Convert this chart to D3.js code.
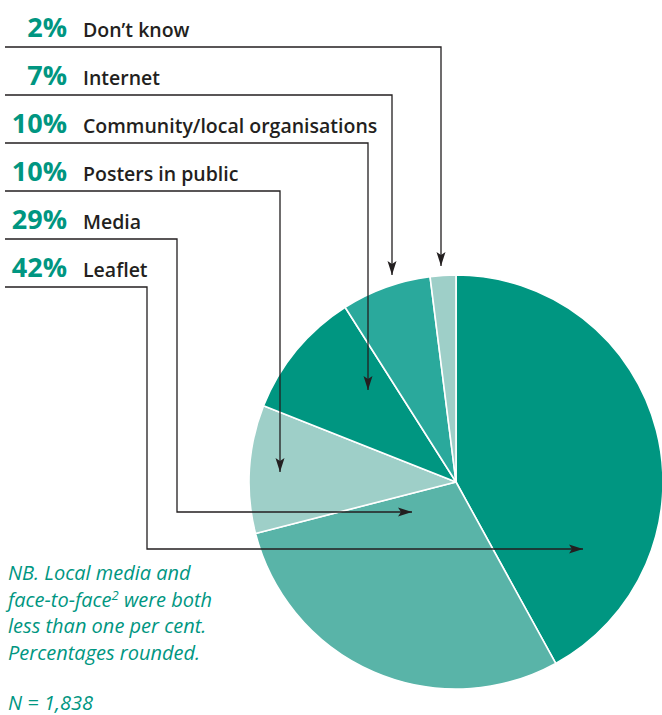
<!DOCTYPE html>
<html>
<head>
<meta charset="utf-8">
<script src="https://cdn.jsdelivr.net/npm/d3@7/dist/d3.min.js"></script>
<style>
  html, body { margin: 0; padding: 0; background: #fff; }
  svg { display: block; }
</style>
</head>
<body>
<script>
// Sources of information (per cent), drawn clockwise from 12 o'clock
const categories = ["Leaflet", "Media", "Posters in public", "Community/local organisations", "Internet", "Don\u2019t know"];
const values = [42, 29, 10, 10, 7, 2];
const sliceColors = ["#009681", "#59b4a8", "#9ecfc8", "#009681", "#2aa99c", "#9ecfc8"];
// Legend order, top to bottom
const legendOrder = ["Don\u2019t know", "Internet", "Community/local organisations", "Posters in public", "Media", "Leaflet"];
const noteLines = ["NB. Local media and", "face-to-face|2| were both", "less than one per cent.", "Percentages rounded."];
const sampleNote = "N = 1,838";

const W = 662, H = 715;
const teal = "#009681", ink = "#231f20";
const cx = 456, cy = 482, R = 207;

const svg = d3.select("body").append("svg").attr("width", W).attr("height", H);

const data = categories.map((c, i) => ({ name: c, value: values[i], color: sliceColors[i] }));
const pie = d3.pie().value(d => d.value).sort(null);
const arcs = pie(data);
const arc = d3.arc().innerRadius(0).outerRadius(R);

const g = svg.append("g").attr("transform", `translate(${cx},${cy})`);
g.selectAll("path").data(arcs).join("path")
  .attr("d", arc)
  .attr("fill", d => d.data.color)
  .attr("stroke", "#fff")
  .attr("stroke-width", 1.6)
  .attr("stroke-linejoin", "round");

// Arrow marker: slim, notched head
svg.append("defs").append("marker")
  .attr("id", "arrow").attr("viewBox", "0 0 14 10")
  .attr("refX", 14).attr("refY", 5)
  .attr("markerWidth", 15).attr("markerHeight", 10)
  .attr("markerUnits", "userSpaceOnUse")
  .attr("orient", "auto")
  .append("path").attr("d", "M0,0.5 L14,5 L0,9.5 L3,5 Z").attr("fill", ink);

// Legend rows
const rowY = d3.scaleLinear().domain([0, legendOrder.length - 1]).range([37, 277]);

// Connector routes: leader line under each row, vertical drop, optional horizontal run into the slice
const routes = {
  "Don\u2019t know": { x: 441, tipY: 266 },
  "Internet": { x: 392, tipY: 275 },
  "Community/local organisations": { x: 368, tipY: 390 },
  "Posters in public": { x: 280, tipY: 472 },
  "Media": { x: 177, turnY: 512, tipX: 412 },
  "Leaflet": { x: 147, turnY: 549, tipX: 583 }
};

legendOrder.forEach((name, i) => {
  const d = data.find(v => v.name === name);
  const y = rowY(i);
  svg.append("text")
    .attr("x", 67).attr("y", y)
    .attr("text-anchor", "end")
    .attr("font-family", "'Open Sans', sans-serif")
    .attr("font-weight", 700)
    .attr("font-size", 27)
    .attr("fill", teal)
    .text(d.value + "%");
  svg.append("text")
    .attr("x", 83).attr("y", y)
    .attr("font-family", "'Open Sans', sans-serif")
    .attr("font-weight", 600)
    .attr("font-size", 19.5)
    .attr("fill", ink)
    .text(name);

  const r = routes[name];
  const ly = y + 10;
  let pts;
  if (r.turnY !== undefined) {
    pts = [[5, ly], [r.x, ly], [r.x, r.turnY], [r.tipX, r.turnY]];
  } else {
    pts = [[5, ly], [r.x, ly], [r.x, r.tipY]];
  }
  svg.append("path")
    .attr("d", d3.line()(pts))
    .attr("fill", "none")
    .attr("stroke", ink)
    .attr("stroke-width", 1.3)
    .attr("marker-end", "url(#arrow)");
});

// Footnote
const note = svg.append("g")
  .attr("font-family", "'Open Sans', sans-serif")
  .attr("font-style", "italic")
  .attr("font-size", 20)
  .attr("fill", teal);
noteLines.forEach((line, i) => {
  const t = note.append("text").attr("x", 8).attr("y", 580 + i * 26.7);
  const parts = line.split("|");
  parts.forEach((p, j) => {
    const ts = t.append("tspan").text(p);
    if (j === 1) ts.attr("dy", -7).attr("font-size", 13);
    if (j === 2) ts.attr("dy", 7);
  });
});
note.append("text").attr("x", 8).attr("y", 710).text(sampleNote);
</script>
</body>
</html>
